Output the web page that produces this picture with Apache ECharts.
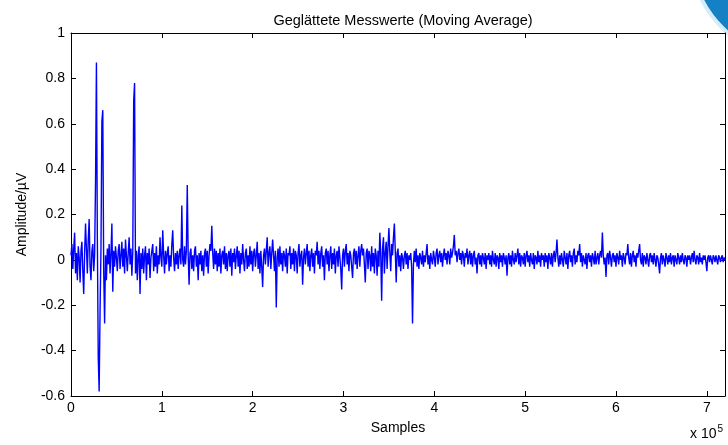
<!DOCTYPE html>
<html>
<head>
<meta charset="utf-8">
<script src="https://cdn.jsdelivr.net/npm/echarts@6/dist/echarts.min.js"></script>
<style>
  html, body { margin: 0; padding: 0; background: #fff; }
  #chart { width: 728px; height: 445px; }
</style>
</head>
<body>
<div id="chart"></div>
<script>
// samples spaced by sampleStep (µV)
const sampleStep = 1000
const xTicks = [0, 1, 2, 3, 4, 5, 6, 7]
const yTicks = [-0.6, -0.4, -0.2, 0, 0.2, 0.4, 0.6, 0.8, 1]
const amplitude = [
  0.02, 0.07, -0.04, 0.05, 0.12, -0.06, 0.03, -0.09, 0.06, 0.01, -0.10, 0.04, 0.08, -0.05, -0.15, 0.03, 0.16, 0.05, -0.06, 0.09,
  0.18, -0.03, -0.09, 0.04, 0.07, -0.05, 0.02, 0.34, 0.87, 0.10, -0.43, -0.58, -0.22, 0.05, 0.61, 0.66, -0.05, -0.28, 0.02, -0.09,
  0.05, -0.02, 0.07, -0.06, 0.03, 0.16, -0.14, 0.04, -0.03, 0.06, 0.01, -0.05, 0.04, 0.07, -0.04, 0.02, 0.08, -0.03, 0.05, -0.06,
  0.09, 0.02, -0.05, 0.03, 0.10, -0.02, 0.05, -0.07, 0.03, 0.70, 0.78, -0.06, 0.04, -0.09, 0.02, 0.06, -0.15, 0.03, -0.04, 0.05,
  -0.06, 0.02, 0.06, -0.09, 0.03, -0.02, 0.05, -0.08, 0.01, 0.04, 0.07, -0.05, 0.03, -0.03, 0.06, -0.06, 0.02, -0.02, 0.10, 0.01,
  -0.03, 0.13, 0.02, -0.06, 0.04, -0.02, 0.03, 0.06, -0.05, 0.02, -0.03, 0.07, 0.13, 0.01, -0.05, 0.03, -0.02, 0.04, -0.04, 0.02,
  0.05, -0.02, 0.24, 0.00, -0.03, 0.06, -0.02, 0.04, 0.33, 0.02, -0.11, 0.03, 0.05, -0.04, 0.02, -0.05, 0.04, 0.06, -0.03, 0.02,
  -0.09, 0.03, -0.02, 0.04, -0.05, 0.02, -0.07, 0.03, 0.05, -0.03, 0.04, -0.06, 0.02, 0.07, 0.04, 0.15, 0.03, -0.04, 0.05, -0.02,
  0.04, -0.05, 0.03, -0.03, 0.05, -0.06, 0.02, 0.04, -0.02, 0.06, -0.04, 0.03, -0.05, 0.02, 0.04, -0.03, 0.05, -0.07, 0.03, -0.01,
  0.05, -0.04, 0.02, 0.06, -0.03, 0.04, -0.06, 0.03, -0.02, 0.07, 0.00, -0.05, 0.03, 0.05, -0.04, 0.02, -0.03, 0.06, -0.02, 0.04,
  -0.05, 0.03, 0.05, -0.03, 0.02, 0.08, -0.04, 0.03, -0.06, 0.04, -0.03, -0.12, 0.02, 0.05, -0.02, 0.04, 0.10, -0.03, 0.03, 0.06,
  -0.04, 0.03, 0.09, 0.02, -0.05, 0.04, -0.21, 0.01, 0.05, -0.03, 0.06, -0.02, 0.03, -0.05, 0.04, 0.02, -0.03, 0.05, -0.06, 0.03,
  0.02, 0.06, -0.04, 0.03, -0.02, 0.05, -0.05, 0.04, 0.02, -0.06, 0.03, 0.07, -0.03, 0.02, 0.04, -0.11, 0.01, 0.05, -0.02, 0.03,
  0.07, -0.03, 0.04, -0.05, 0.02, 0.05, -0.03, 0.03, -0.06, 0.04, 0.02, 0.08, -0.02, 0.04, -0.04, 0.03, 0.06, -0.03, 0.02, -0.09,
  0.03, 0.05, -0.02, 0.04, -0.05, 0.02, 0.06, -0.04, 0.03, -0.02, 0.05, -0.06, 0.02, 0.04, -0.03, 0.06, 0.01, -0.04, -0.13, 0.02,
  0.05, -0.03, 0.04, 0.07, -0.02, 0.03, -0.05, 0.04, 0.02, -0.03, -0.08, 0.03, 0.05, -0.02, 0.04, -0.04, 0.02, 0.06, -0.03, 0.04,
  0.07, 0.02, 0.05, -0.02, -0.10, 0.03, 0.05, -0.04, 0.04, 0.02, -0.05, 0.06, -0.03, 0.03, -0.06, 0.05, 0.02, -0.07, 0.04, -0.03,
  0.12, 0.02, -0.18, 0.05, 0.10, -0.06, 0.03, 0.08, -0.04, 0.06, 0.14, 0.03, -0.05, 0.07, 0.02, 0.10, 0.16, 0.04, -0.10, 0.03,
  0.05, -0.03, 0.02, -0.05, 0.03, 0.01, -0.04, 0.02, 0.04, -0.02, 0.03, -0.04, 0.02, 0.00, 0.03, -0.03, -0.28, -0.02, 0.04, -0.01,
  0.05, -0.03, 0.02, -0.04, 0.03, 0.01, -0.02, 0.04, -0.03, 0.02, -0.01, 0.03, 0.07, -0.02, 0.02, -0.04, 0.03, 0.00, -0.02, 0.04,
  0.01, -0.03, 0.03, 0.05, -0.02, 0.02, 0.04, -0.01, 0.03, -0.03, 0.02, 0.05, 0.00, 0.03, -0.02, 0.04, 0.02, -0.02, 0.05, 0.01,
  0.03, 0.06, 0.11, 0.02, 0.04, -0.01, 0.03, 0.05, 0.00, 0.03, -0.02, 0.04, 0.02, -0.03, 0.03, 0.01, 0.05, -0.02, 0.02, 0.04,
  -0.02, 0.03, -0.03, 0.02, 0.04, -0.02, 0.01, -0.06, 0.02, 0.03, -0.02, 0.02, -0.03, 0.03, 0.01, -0.02, 0.03, -0.04, 0.02, 0.00,
  0.03, -0.02, 0.02, -0.03, 0.04, 0.00, -0.02, 0.03, -0.03, 0.02, 0.01, -0.04, 0.03, -0.01, 0.02, -0.03, 0.03, 0.01, -0.02, 0.02,
  -0.07, 0.01, 0.03, -0.02, 0.02, -0.03, 0.04, 0.00, -0.02, 0.03, -0.01, 0.02, 0.05, -0.02, 0.03, -0.03, 0.02, 0.01, -0.02, 0.03,
  -0.03, 0.02, 0.04, -0.01, 0.02, -0.03, 0.03, 0.00, -0.02, 0.03, -0.04, 0.02, 0.01, -0.02, 0.04, -0.01, 0.02, -0.03, 0.03, 0.00,
  0.02, -0.03, 0.03, -0.01, 0.02, -0.04, 0.03, 0.01, -0.02, 0.03, -0.03, 0.02, 0.04, -0.01, 0.03, 0.09, 0.01, -0.03, 0.02, -0.02,
  0.03, 0.00, -0.03, 0.04, 0.01, -0.02, 0.03, -0.04, 0.02, 0.04, -0.01, 0.02, -0.03, 0.03, 0.05, -0.02, 0.02, -0.01, 0.04, 0.02,
  0.07, -0.01, 0.03, -0.03, 0.02, 0.00, -0.02, 0.03, -0.04, 0.02, 0.03, -0.01, 0.02, -0.03, 0.03, 0.01, -0.02, 0.04, -0.02, 0.01,
  0.03, -0.02, 0.02, 0.04, 0.01, 0.12, 0.02, -0.02, 0.01, -0.075, 0.02, 0.03, -0.02, 0.04, 0.01, -0.03, 0.02, 0.03, -0.01, 0.02,
  -0.03, 0.03, 0.01, -0.02, 0.04, 0.00, 0.02, -0.03, 0.03, 0.01, -0.02, 0.03, 0.02, 0.07, 0.01, -0.02, 0.03, -0.03, 0.02, 0.04,
  -0.01, 0.02, -0.03, 0.03, 0.01, 0.04, 0.07, 0.00, -0.02, 0.03, -0.03, 0.02, 0.01, -0.02, 0.03, 0.00, -0.03, 0.02, 0.03, -0.01,
  0.02, -0.02, 0.03, 0.00, -0.03, 0.02, 0.01, -0.02, -0.06, 0.01, 0.03, -0.02, 0.02, 0.00, -0.03, 0.03, 0.01, -0.02, 0.02, -0.01,
  0.03, -0.02, 0.01, 0.02, -0.03, 0.02, 0.00, -0.02, 0.03, 0.01, -0.02, 0.02, -0.01, 0.03, 0.00, -0.02, 0.02, 0.01, -0.03, 0.02,
  0.00, 0.02, -0.02, 0.01, 0.03, -0.01, 0.04, 0.00, -0.02, 0.02, 0.01, -0.02, 0.03, -0.01, 0.01, -0.02, 0.02, 0.00, 0.02, -0.01,
  -0.05, 0.01, 0.02, -0.01, 0.02, 0.00, -0.02, 0.02, 0.01, -0.01, 0.02, 0.00, -0.02, 0.02, 0.01, -0.01, 0.01, 0.02, -0.01, 0.01,
  0.00
]

const font = '"Liberation Sans", Arial, sans-serif'
const points = amplitude.map((v, i) => [i * sampleStep, v])

const chart = echarts.init(document.getElementById('chart'))

const tickStyle = { show: true, inside: true, length: 5, lineStyle: { color: '#000', width: 1 } }
const lineStyle = { show: true, onZero: false, lineStyle: { color: '#000', width: 1 } }

const xBase = {
  type: 'value',
  min: 0,
  max: 720000,
  interval: 100000,
  splitLine: { show: false },
  axisLine: lineStyle,
  axisTick: tickStyle
}
const yBase = {
  type: 'value',
  min: yTicks[0],
  max: yTicks[yTicks.length - 1],
  interval: 0.2,
  splitLine: { show: false },
  axisLine: lineStyle,
  axisTick: tickStyle
}

chart.setOption({
  animation: false,
  backgroundColor: '#fff',
  title: {
    text: 'Geglättete Messwerte (Moving Average)',
    left: 398,
    top: 8,
    textAlign: 'center',
    textStyle: { fontFamily: font, fontSize: 14.5, fontWeight: 'normal', color: '#000' }
  },
  grid: { left: 71, right: 3, top: 33, bottom: 49 },
  xAxis: [
    Object.assign({}, xBase, {
      position: 'bottom',
      name: 'Samples',
      nameLocation: 'middle',
      nameGap: 25,
      nameTextStyle: { fontFamily: font, fontSize: 14, color: '#000' },
      axisLabel: {
        fontFamily: font, fontSize: 14, color: '#000', margin: 5, showMaxLabel: false,
        formatter: v => {
          const t = v / 100000
          return xTicks.includes(t) ? String(t) : ''
        }
      }
    }),
    Object.assign({}, xBase, { position: 'top', axisLabel: { show: false } })
  ],
  yAxis: [
    Object.assign({}, yBase, {
      position: 'left',
      name: 'Amplitude/µV',
      nameLocation: 'middle',
      nameGap: 42,
      nameTextStyle: { fontFamily: font, fontSize: 14, color: '#000' },
      axisLabel: {
        fontFamily: font, fontSize: 14, color: '#000', margin: 6,
        formatter: v => {
          const s = (Math.round(v * 10) / 10).toString()
          return s === '-0' ? '0' : s
        }
      }
    }),
    Object.assign({}, yBase, { position: 'right', axisLabel: { show: false } })
  ],
  graphic: [
    {
      type: 'circle',
      z: -1,
      shape: { cx: 800, cy: -50, r: 110 },
      style: { fill: '#1580c4', stroke: '#d6ecf8', lineWidth: 4 }
    },
    {
      type: 'text',
      left: 690,
      top: 424,
      style: {
        text: 'x 10{sup|5}',
        font: '14px ' + font,
        fill: '#000',
        rich: {
          sup: { fontSize: 10, fontFamily: font, verticalAlign: 'top', padding: [0, 0, 10, 1] }
        }
      }
    }
  ],
  series: [{
    type: 'line',
    data: points,
    showSymbol: false,
    symbol: 'none',
    lineStyle: { color: '#0000ff', width: 1.4 },
    silent: true
  }]
})
</script>
</body>
</html>
